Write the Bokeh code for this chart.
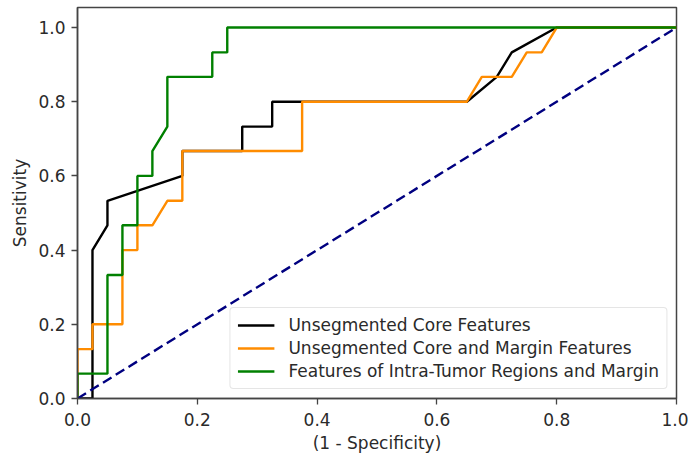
from bokeh.plotting import figure
from bokeh.models import Range1d, FixedTicker, NumeralTickFormatter, Legend, LegendItem
from bokeh.embed import file_html
from bokeh.resources import INLINE

# Data
core_fpr = [0.0, 0.025, 0.025, 0.05, 0.05, 0.175, 0.175, 0.275, 0.275, 0.325, 0.325, 0.65, 0.7, 0.725, 0.8, 1.0]
core_tpr = [0.0, 0.0, 0.4, 0.467, 0.533, 0.6, 0.667, 0.667, 0.733, 0.733, 0.8, 0.8, 0.867, 0.933, 1.0, 1.0]

margin_fpr = [0.0, 0.0, 0.025, 0.025, 0.075, 0.075, 0.1, 0.1, 0.125, 0.15, 0.175, 0.175, 0.375, 0.375, 0.65, 0.675, 0.725, 0.75, 0.775, 0.8, 1.0]
margin_tpr = [0.0, 0.133, 0.133, 0.2, 0.2, 0.4, 0.4, 0.467, 0.467, 0.533, 0.533, 0.667, 0.667, 0.8, 0.8, 0.867, 0.867, 0.933, 0.933, 1.0, 1.0]

regions_fpr = [0.0, 0.0, 0.05, 0.05, 0.075, 0.075, 0.1, 0.1, 0.125, 0.125, 0.15, 0.15, 0.225, 0.225, 0.25, 0.25, 1.0]
regions_tpr = [0.0, 0.067, 0.067, 0.333, 0.333, 0.467, 0.467, 0.6, 0.6, 0.667, 0.733, 0.867, 0.867, 0.933, 0.933, 1.0, 1.0]

chance_x = [0.0, 1.0]
chance_y = [0.0, 1.0]

series_names = ["Unsegmented Core Features",
                "Unsegmented Core and Margin Features",
                "Features of Intra-Tumor Regions and Margin"]
tick_values = [0.0, 0.2, 0.4, 0.6, 0.8, 1.0]

FONT = "DejaVu Sans"
FS = "17px"
TXT = "#2a2a2a"

p = figure(width=688, height=456, output_backend="svg", toolbar_location=None,
           x_range=Range1d(0, 1), y_range=Range1d(0, 1.054),
           min_border_left=77, min_border_right=12, min_border_top=7, min_border_bottom=58,
           frame_width=599, frame_height=391)
p.background_fill_color = "white"
p.border_fill_color = "white"
p.grid.visible = False
p.outline_line_color = "#444444"
p.outline_line_width = 1.5

for ax in (p.xaxis[0], p.yaxis[0]):
    ax.ticker = FixedTicker(ticks=tick_values)
    ax.formatter = NumeralTickFormatter(format="0.0")
    ax.major_label_text_font = FONT
    ax.major_label_text_font_size = FS
    ax.major_label_text_color = TXT
    ax.axis_label_text_font = FONT
    ax.axis_label_text_font_size = FS
    ax.axis_label_text_font_style = "normal"
    ax.axis_label_text_color = TXT
    ax.major_tick_in = 0
    ax.major_tick_out = 6
    ax.major_tick_line_width = 1.3
    ax.minor_tick_line_color = None
    ax.axis_line_color = "#444444"
    ax.axis_line_width = 1.5
    ax.major_tick_line_color = "#444444"

p.xaxis.axis_label = "(1 - Specificity)"
p.yaxis.axis_label = "Sensitivity"
p.xaxis.major_label_standoff = 8
p.xaxis.axis_label_standoff = 4
p.yaxis.major_label_standoff = 6
p.yaxis.axis_label_standoff = 5

r1 = p.line(core_fpr, core_tpr, line_color="black", line_width=2.4)
r2 = p.line(margin_fpr, margin_tpr, line_color="darkorange", line_width=2.4)
r3 = p.line(regions_fpr, regions_tpr, line_color="green", line_width=2.4)
p.line(chance_x, chance_y, line_color="navy", line_width=2.4, line_dash="10 5")

legend = Legend(items=[LegendItem(label=series_names[0], renderers=[r1]),
                       LegendItem(label=series_names[1], renderers=[r2]),
                       LegendItem(label=series_names[2], renderers=[r3])],
                location="bottom_right")
legend.margin = 9
legend.padding = 7
legend.spacing = 3
legend.glyph_width = 37
legend.glyph_height = 20
legend.label_height = 20
legend.label_standoff = 14
legend.label_text_font = FONT
legend.label_text_font_size = FS
legend.label_text_color = TXT
legend.border_line_color = "#cccccc"
legend.border_line_width = 1.2
legend.border_radius = 4
legend.background_fill_alpha = 0.85
p.add_layout(legend)

open("out.html", "w").write(file_html(p, INLINE))
